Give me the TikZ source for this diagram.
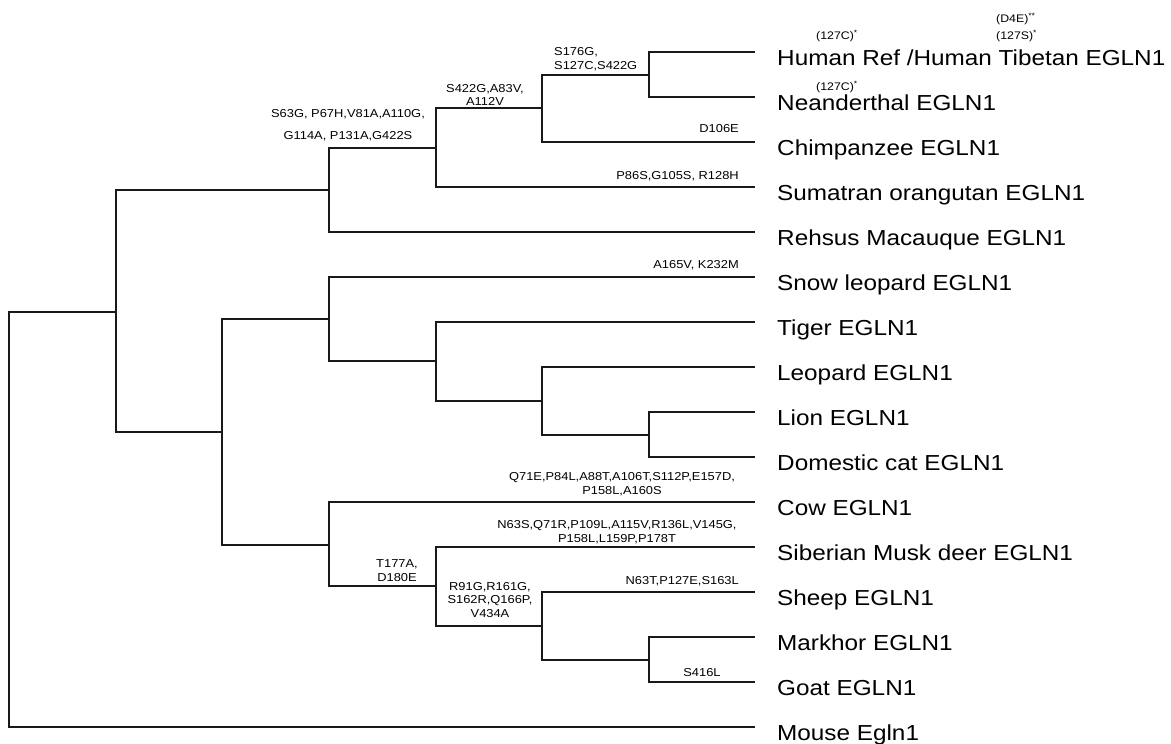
\documentclass[tikz,border=0pt]{standalone}
\usepackage{fontspec}
\setmainfont{Liberation Sans}[FakeStretch=1.12]
\newcommand\taxfont{\fontsize{21.7}{24}\selectfont}
\newcommand\mutfont{\fontsize{11.5}{13.8}\selectfont}
\newcommand\notefont{\fontsize{11}{12}\selectfont}

\begin{document}
\begin{tikzpicture}[x=1pt, y=-1pt,
                    branch/.style={draw=black!90, line width=2pt},
                    taxon/.style={anchor=base west, inner sep=0pt, font=\taxfont},
                    mut/.style={inner sep=0pt, align=center, font=\mutfont},
                    note/.style={anchor=base west, inner sep=0pt, font=\notefont}
                ]
                \useasboundingbox (0,0) rectangle (1171,744);

                % Leaf tips
                \foreach \n/\y in {human/52, neand/97, chimp/142, orang/187, rhesus/232,
                                   snow/277, tiger/322, leopard/367, lion/412, cat/457,
                                   cow/502, musk/547, sheep/592, markhor/637, goat/682, mouse/727}
                    \coordinate (t-\n) at (755,\y);

                % Inner nodes
                \coordinate (root) at (9,519);
                \coordinate (n1) at (116,311.5);
                \coordinate (prim) at (329,190);
                \coordinate (apes) at (436,148);
                \coordinate (hom) at (542,108);
                \coordinate (hn) at (649,74.5);
                \coordinate (laur) at (222,432);
                \coordinate (fel1) at (329,319.2);
                \coordinate (fel2) at (436,361.4);
                \coordinate (fel3) at (542,400.8);
                \coordinate (fel4) at (649,434.5);
                \coordinate (bov1) at (329,544.6);
                \coordinate (bov2) at (436,586.4);
                \coordinate (bov3) at (542,625.8);
                \coordinate (bov4) at (649,659.5);

                % Branches
                \foreach \a/\b in {root/n1, root/t-mouse, n1/prim, n1/laur,
                                   prim/apes, prim/t-rhesus, apes/hom, apes/t-orang,
                                   hom/hn, hom/t-chimp, hn/t-human, hn/t-neand,
                                   laur/fel1, laur/bov1, fel1/t-snow, fel1/fel2,
                                   fel2/t-tiger, fel2/fel3, fel3/t-leopard, fel3/fel4,
                                   fel4/t-lion, fel4/t-cat, bov1/t-cow, bov1/bov2,
                                   bov2/t-musk, bov2/bov3, bov3/t-sheep, bov3/bov4,
                                   bov4/t-markhor, bov4/t-goat}
                    \draw[branch] (\a) |- (\b);

                % Taxa
                \node[taxon] (l-human) at ([shift={(22,13)}]t-human) {Human Ref /Human Tibetan EGLN1};
                \node[taxon] (l-neand) at ([shift={(22,13)}]t-neand) {Neanderthal EGLN1};
                \node[taxon] (l-chimp) at ([shift={(22,13)}]t-chimp) {Chimpanzee EGLN1};
                \node[taxon] (l-orang) at ([shift={(22,13)}]t-orang) {Sumatran orangutan EGLN1};
                \node[taxon] (l-rhesus) at ([shift={(22,13)}]t-rhesus) {Rehsus Macauque EGLN1};
                \node[taxon] (l-snow) at ([shift={(22,13)}]t-snow) {Snow leopard EGLN1};
                \node[taxon] (l-tiger) at ([shift={(22,13)}]t-tiger) {Tiger EGLN1};
                \node[taxon] (l-leopard) at ([shift={(22,13)}]t-leopard) {Leopard EGLN1};
                \node[taxon] (l-lion) at ([shift={(22,13)}]t-lion) {Lion EGLN1};
                \node[taxon] (l-cat) at ([shift={(22,13)}]t-cat) {Domestic cat EGLN1};
                \node[taxon] (l-cow) at ([shift={(22,13)}]t-cow) {Cow EGLN1};
                \node[taxon] (l-musk) at ([shift={(22,13)}]t-musk) {Siberian Musk deer EGLN1};
                \node[taxon] (l-sheep) at ([shift={(22,13)}]t-sheep) {Sheep EGLN1};
                \node[taxon] (l-markhor) at ([shift={(22,13)}]t-markhor) {Markhor EGLN1};
                \node[taxon] (l-goat) at ([shift={(22,13)}]t-goat) {Goat EGLN1};
                \node[taxon] (l-mouse) at ([shift={(22,13)}]t-mouse) {Mouse Egln1};

                % Notes over the human taxa
                \node[note] (c-human) at (816,39) {(127C)\textsuperscript{*}};
                \node[note] (c-neand) at (816,90) {(127C)\textsuperscript{*}};
                \node[note] (s-human) at (996,39) {(127S)\textsuperscript{*}};
                \node[note] (d-human) at (996,22) {(D4E)\textsuperscript{**}};

                % Substitutions
                \node[mut, anchor=south west, align=left] (m-hn) at (554,71) {S176G,\\S127C,S422G};
                \node[mut, anchor=south] (m-hom) at (485,106) {S422G,A83V,\\A112V};
                \node[mut, anchor=south] (m-apes) at (348,141) {S63G, P67H,V81A,A110G,\\[8pt]G114A, P131A,G422S};
                \node[mut, anchor=base east] (m-chimp) at (739,132) {D106E};
                \node[mut, anchor=base east] (m-orang) at (739,179) {P86S,G105S, R128H};
                \node[mut, anchor=base east] (m-snow) at (739,268) {A165V, K232M};
                \node[mut, anchor=south] (m-cow) at (622,496) {Q71E,P84L,A88T,A106T,S112P,E157D,\\P158L,A160S};
                \node[mut, anchor=south] (m-musk) at (617,544) {N63S,Q71R,P109L,A115V,R136L,V145G,\\P158L,L159P,P178T};
                \node[mut, anchor=south] (m-bov2) at (397,582) {T177A,\\D180E};
                \node[mut, anchor=south] (m-bov3) at (490,618) {R91G,R161G,\\S162R,Q166P,\\V434A};
                \node[mut, anchor=base east] (m-sheep) at (739,584) {N63T,P127E,S163L};
                \node[mut, anchor=base] (m-goat) at (702,676) {S416L};
            \end{tikzpicture}
\end{document}
